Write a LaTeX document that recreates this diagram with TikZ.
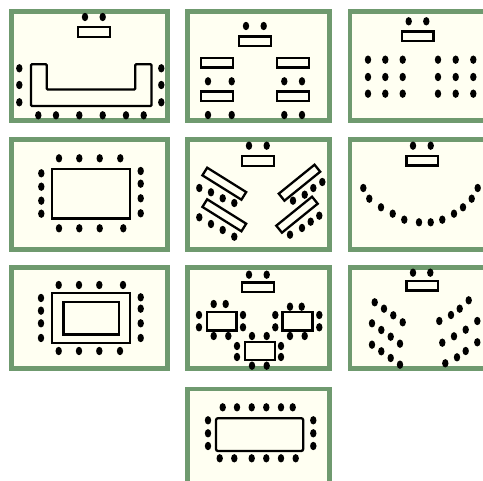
\documentclass[tikz,border=0pt]{standalone}
\usepackage{xcolor}
\usepackage{tikz}
\definecolor{roomgreen}{HTML}{6F9A6F}
\definecolor{roomfill}{HTML}{FFFFF2}

\begin{document}
\begin{tikzpicture}[
    x=1pt, y=-1pt,
    room/.style={draw=roomgreen, fill=roomfill, line width=4.6pt},
    tablebox/.style={draw=black, fill=roomfill, line width=2.3pt},
    podium/.style={rectangle, draw=black, fill=roomfill, line width=2.3pt, inner sep=0pt, minimum width=31.5pt, minimum height=9.6pt},
    desk/.style={podium, minimum width=32pt, minimum height=9.6pt},
    bench/.style={podium, minimum width=46pt, minimum height=9pt},
    seat/.style={x radius=3.2pt, y radius=4.2pt},
]
\clip (0,0) rectangle (483,481);
\fill[white] (0,0) rectangle (483,481);

\draw[room] (11.7,11.7) rectangle (167.3,120.5);
\draw[room] (187.7,11.7) rectangle (329.3,120.5);
\draw[room] (349.9,11.7) rectangle (490,120.5);
\draw[room] (11.7,139.7) rectangle (167.3,249.5);
\draw[room] (187.7,139.7) rectangle (329.3,249.5);
\draw[room] (349.9,139.7) rectangle (490,249.5);
\draw[room] (11.7,267.4) rectangle (167.3,368.7);
\draw[room] (187.7,267.4) rectangle (329.3,368.7);
\draw[room] (349.9,267.4) rectangle (490,368.7);
\draw[room] (187.7,389.2) rectangle (329.3,490);

\node[podium] (podiumA) at (94,32) {};
\node[podium] (podiumB) at (255,41.3) {};
\node[podium] (podiumC) at (417.8,36.2) {};
\node[podium] (podiumD) at (258,161) {};
\node[podium] (podiumE) at (422.2,160.8) {};
\node[podium] (podiumG) at (258,287.3) {};
\node[podium] (podiumH) at (422.2,285.7) {};

\draw[tablebox, rounded corners=1pt] (31,64.3) -- (46.8,64.3) -- (46.8,89.5) -- (135.2,89.5) -- (135.2,64.3) -- (151.5,64.3) -- (151.5,106) -- (31,106) -- cycle;

\node[desk] (deskA) at (217,62.7) {};
\node[desk] (deskB) at (293.2,62.7) {};
\node[desk] (deskC) at (217,96.2) {};
\node[desk] (deskD) at (293.2,96.2) {};

\draw[tablebox] (52,169.3) rectangle (130,218.5);

\node[bench, rotate=-32] (benchA) at (224.3,183.7) {};
\node[bench, rotate=-32] (benchB) at (224.3,215.3) {};
\node[bench, rotate=39] (benchC) at (299.5,182.7) {};
\node[bench, rotate=39] (benchD) at (297,214.7) {};

\draw[tablebox] (52,293.2) rectangle (130.3,343);
\draw[tablebox] (63.5,301.8) rectangle (118.7,334.6);

\draw[tablebox] (207,312) rectangle (236.5,330.5);
\draw[tablebox] (282.5,312) rectangle (312.5,330.5);
\draw[tablebox] (245,342) rectangle (275,360.2);

\draw[tablebox, rounded corners=2pt] (216,418.2) rectangle (303.2,451);

\foreach \x/\y in {85/17, 102.7/17, 19.3/68.3, 19.3/85, 19.3/102.3, 161.3/68.3, 161.3/85, 161.3/102.3, 38.3/115.3, 56/115.3, 79.3/115.3, 102.7/115.3, 126/115.3, 143.7/115.3}
    \fill (\x,\y) circle [seat];

\foreach \x in {208, 231.7, 284.3, 302} {
    \fill (\x,81.3) circle [seat];
    \fill (\x,115) circle [seat];
}
\foreach \x/\y in {246/26, 263.7/26}
    \fill (\x,\y) circle [seat];

\foreach \x in {368, 385.3, 402.7, 438, 455.7, 473.3}
    \foreach \y in {59.7, 77, 93.7}
        \fill (\x,\y) circle [seat];
\foreach \x/\y in {408.7/21.3, 426.3/21.3}
    \fill (\x,\y) circle [seat];

\foreach \x/\y in {59/158.3, 79.3/158.3, 99.7/158.3, 120.3/158.3, 59/228.3, 79.3/228.3, 99.7/228.3, 123.3/228.3, 41.3/173.3, 41.3/186.7, 41.3/200.7, 41.3/213.7, 140.7/171, 140.7/183.7, 140.7/198.3, 140.7/213.3}
    \fill (\x,\y) circle [seat];

\foreach \x/\y in {249/145.7, 266.7/145.7, 199.3/188, 211/192.3, 222.7/198.3, 234.3/203, 199.3/217.3, 211/224, 222.7/230, 234.3/236.7, 293/200.7, 304.7/194.7, 313.3/188, 322.3/182, 290/234.7, 302/228, 310.7/221.7, 319.3/215.7}
    \fill (\x,\y) circle [seat];

\foreach \x/\y in {413/145.7, 430.7/145.7, 363.3/188, 369.3/198.7, 381/207.3, 392.7/213.7, 404.3/219.7, 419/222.3, 430.7/222.3, 442.3/219.7, 454/213.7, 463/207.3, 471.7/198.7, 477.7/188}
    \fill (\x,\y) circle [seat];

\foreach \x/\y in {58.7/285, 79/285, 99.3/285, 123/285, 58.7/351, 79/351, 99.3/351, 120/351, 41/298, 41/310.7, 41/323.3, 41/338, 140.7/297.3, 140.7/308.7, 140.7/323.3, 140.7/338}
    \fill (\x,\y) circle [seat];

\foreach \x/\y in {249/274.7, 266.7/274.7, 213.7/304, 225.7/304, 213.7/336, 228.3/336, 199/315, 199/327.3, 243/315, 243/327.3, 290/306.7, 301.7/306.7, 290/336, 304.7/336, 275.3/315, 275.3/327.3, 319.3/315, 319.3/327.3, 252/336, 266.7/336, 252/365.7, 266.7/365.7, 237/346, 237/357, 281/346, 281/357}
    \fill (\x,\y) circle [seat];

\foreach \x/\y in {413/272.7, 430.3/272.7, 374.7/302.3, 384/308.7, 393.3/315.3, 402.7/322.3, 372/323.3, 381.3/330, 390.7/336.7, 400/343.7, 372/344.7, 381.3/351.3, 390.7/358, 400/364.7, 468.7/300.3, 459.7/308.7, 451/315, 439.3/321, 477.3/321, 465.7/329.7, 454/336.3, 442.3/342.7, 477.3/342.3, 465.7/351, 457/357.3, 445.3/363.3}
    \fill (\x,\y) circle [seat];

\foreach \x/\y in {222.7/407.3, 237/407.3, 251.7/407.3, 266.3/407.3, 281/407.3, 292.7/407.3, 219.7/458.3, 234.3/458.3, 251.7/458.3, 266.3/458.3, 281/458.3, 295.7/458.3, 208/420.3, 208/433.3, 208/446, 313.3/420.3, 313.3/433.3, 313.3/446}
    \fill (\x,\y) circle [seat];

\end{tikzpicture}
\end{document}
